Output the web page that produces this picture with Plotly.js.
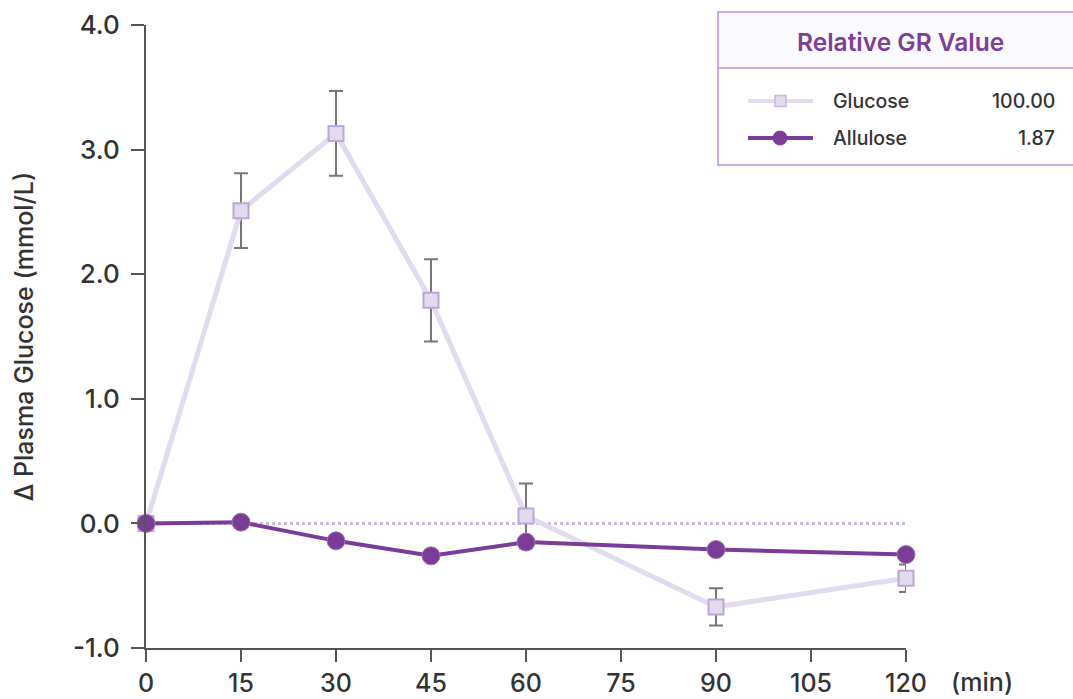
<!DOCTYPE html>
<html><head><meta charset="utf-8">
<script src="https://cdn.plot.ly/plotly-3.0.1.min.js"></script>
<style>html,body{margin:0;padding:0;background:#fff}#chart{width:1073px;height:699px}</style>
</head><body><div id="chart"></div>
<script>
const minutes = [0, 15, 30, 45, 60, 90, 120];
const glucose = [0, 2.51, 3.13, 1.79, 0.06, -0.67, -0.44];
const glucoseErr = [0, 0.30, 0.34, 0.33, 0.26, 0.15, 0.11];
const allulose = [0, 0.01, -0.14, -0.26, -0.15, -0.21, -0.25];
const xTicks = [0, 15, 30, 45, 60, 75, 90, 105, 120];
const yTicks = [-1, 0, 1, 2, 3, 4];
const legendNames = ['Glucose', 'Allulose'];
const grValues = ['100.00', '1.87'];
const legendTitle = 'Relative GR Value';

const W = 1073, H = 699;
const M = {l: 146, r: W - 906, t: 25, b: H - 648};
const PW = W - M.l - M.r, PH = H - M.t - M.b;
const px = x => (x - M.l) / PW;
const py = y => (H - M.b - y) / PH;

const glCol = '#e2daee', glEdge = '#bea5d8', alCol = '#7a3d97';
const font = 'Inter, "Open Sans", sans-serif';
const txt = '#333';

const traces = [
  {x: minutes, y: glucose, type: 'scatter', mode: 'lines', cliponaxis: false,
   line: {color: glCol, width: 5},
   error_y: {type: 'data', array: glucoseErr, visible: true, color: '#777', thickness: 2, width: 7},
   showlegend: false, hoverinfo: 'skip'},
  {x: minutes, y: glucose, type: 'scatter', mode: 'markers', cliponaxis: false,
   marker: {symbol: 'square', size: 15, color: glCol, line: {color: glEdge, width: 2}},
   showlegend: false},
  {x: minutes, y: allulose, type: 'scatter', mode: 'lines+markers', cliponaxis: false,
   line: {color: alCol, width: 4},
   marker: {symbol: 'circle', size: 18, color: alCol, line: {color: '#9d74b5', width: 1}},
   showlegend: false}
];

const bx0 = 718, bx1 = 1080, by0 = 12, bySep = 68, by1 = 165;
const rows = [101, 138];
const shapes = [
  {type: 'line', xref: 'x', yref: 'y', x0: 0, x1: 120, y0: 0, y1: 0, layer: 'below',
   line: {color: '#cdb9e2', width: 3, dash: 'dot'}},
  {type: 'rect', xref: 'paper', yref: 'paper', x0: px(bx0), x1: px(bx1), y0: py(by0), y1: py(bySep),
   fillcolor: '#faf9fd', line: {width: 0}},
  {type: 'rect', xref: 'paper', yref: 'paper', x0: px(bx0), x1: px(bx1), y0: py(by0), y1: py(by1),
   fillcolor: 'rgba(0,0,0,0)', line: {color: '#b894d3', width: 1.5}},
  {type: 'line', xref: 'paper', yref: 'paper', x0: px(bx0), x1: px(bx1), y0: py(bySep), y1: py(bySep),
   line: {color: '#b894d3', width: 1.5}},
  {type: 'line', xref: 'paper', yref: 'paper', x0: px(748), x1: px(813), y0: py(rows[0]), y1: py(rows[0]),
   line: {color: glCol, width: 4}},
  {type: 'rect', xref: 'paper', yref: 'paper', x0: px(775), x1: px(786), y0: py(rows[0] - 5.5), y1: py(rows[0] + 5.5),
   fillcolor: glCol, line: {color: '#cbb8e2', width: 1.5}},
  {type: 'line', xref: 'paper', yref: 'paper', x0: px(748), x1: px(813), y0: py(rows[1]), y1: py(rows[1]),
   line: {color: alCol, width: 4}},
  {type: 'circle', xref: 'paper', yref: 'paper', x0: px(773), x1: px(787), y0: py(rows[1] - 7), y1: py(rows[1] + 7),
   fillcolor: alCol, line: {color: alCol, width: 1}}
];

const annotations = [
  {xref: 'paper', yref: 'paper', x: px(900), y: py(42), text: legendTitle, showarrow: false,
   font: {family: font, size: 24.5, color: '#7b3f98', weight: 600}, xanchor: 'center', yanchor: 'middle'},
  {xref: 'paper', yref: 'paper', x: px(982), y: py(682), text: '(min)', showarrow: false,
   font: {family: font, size: 25, color: txt, weight: 500}, xanchor: 'center', yanchor: 'middle'}
];
legendNames.forEach((n, i) => {
  annotations.push({xref: 'paper', yref: 'paper', x: px(831), y: py(rows[i]), text: n, showarrow: false,
    font: {family: font, size: 19.5, color: txt, weight: 500}, xanchor: 'left', yanchor: 'middle'});
  annotations.push({xref: 'paper', yref: 'paper', x: px(1057), y: py(rows[i]), text: grValues[i], showarrow: false,
    font: {family: font, size: 19.5, color: txt, weight: 500}, xanchor: 'right', yanchor: 'middle'});
});

const layout = {
  width: W, height: H, margin: M, paper_bgcolor: '#fff', plot_bgcolor: '#fff',
  font: {family: font, color: txt},
  xaxis: {range: [0, 120], tickvals: xTicks, ticktext: xTicks.map(String), showgrid: false, zeroline: false,
    showline: true, linecolor: '#555', linewidth: 2, ticks: 'outside', ticklen: 12, tickwidth: 2, tickcolor: '#555',
    tickfont: {family: font, size: 25, color: txt, weight: 500}, fixedrange: true},
  yaxis: {range: [-1, 4], tickvals: yTicks, ticktext: yTicks.map(v => v.toFixed(1)), showgrid: false, zeroline: false,
    showline: true, linecolor: '#555', linewidth: 2, ticks: 'outside', ticklen: 13, tickwidth: 2, tickcolor: '#555',
    ticklabelstandoff: 6,
    tickfont: {family: font, size: 26, color: txt, weight: 500}, fixedrange: true,
    title: {text: 'Δ Plasma Glucose (mmol/L)', font: {family: font, size: 25, color: txt, weight: 500}, standoff: 32}},
  shapes: shapes, annotations: annotations, showlegend: false
};
Plotly.newPlot('chart', traces, layout, {displayModeBar: false, staticPlot: true});
</script></body></html>
